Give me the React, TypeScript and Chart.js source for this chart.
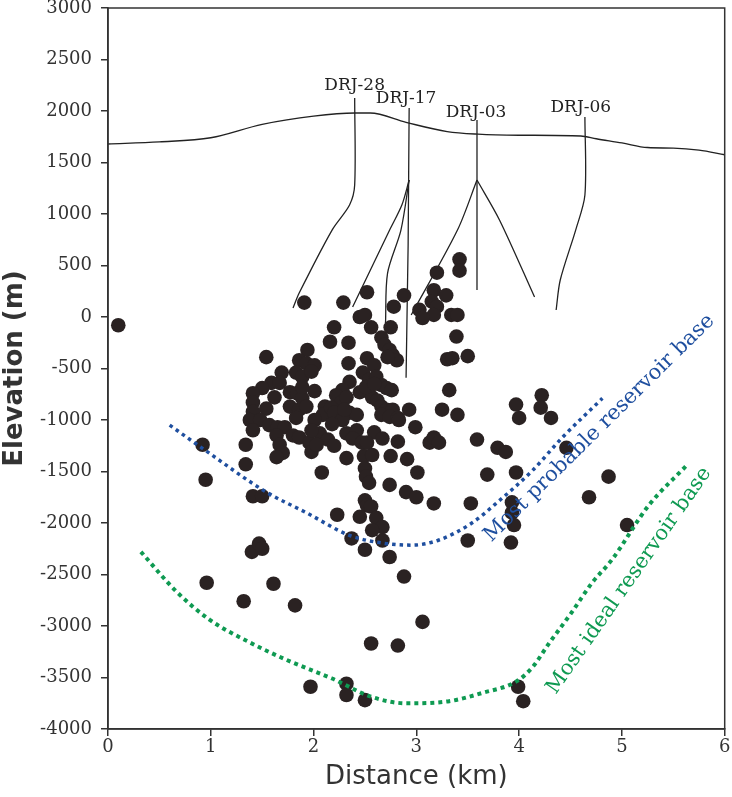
import React, { useEffect, useRef } from "react";
import { Chart, registerables } from "chart.js";

Chart.register(...registerables);

// ---- axis ticks ----
const xTickValues = [0, 1, 2, 3, 4, 5, 6];
const yTickValues = [-4000, -3500, -3000, -2500, -2000, -1500, -1000, -500, 0, 500, 1000, 1500, 2000, 2500, 3000];

// ---- hypocentres: distance (km) / elevation (m) ----
const distanceKm = [
  0.10, 1.91, 1.54, 0.92, 0.95, 1.34, 1.34, 1.41, 1.50, 1.40, 1.47, 1.50, 0.96, 1.61, 1.32, 1.82,
  1.97, 2.32, 2.32, 2.50, 2.56, 2.82, 3.06, 2.88, 3.99, 4.04,
  3.42, 3.42, 3.20, 2.52, 2.88, 2.29, 3.17, 3.15, 3.29, 3.20, 3.17, 3.03, 3.06, 3.34, 3.40, 2.45,
  2.50, 2.78, 2.20, 2.56, 2.75, 3.39, 2.16, 2.34, 2.66, 2.69, 2.74, 2.77, 2.81, 2.72, 1.94, 3.30,
  3.35, 3.50, 2.34, 2.52, 2.59, 1.86, 1.93, 2.01,
  1.69, 1.83, 1.89, 1.98, 2.48, 2.54, 2.61, 2.66, 2.71, 2.76, 1.59, 1.50, 1.41, 1.67, 1.77, 1.84,
  1.89, 2.01, 2.35, 2.28, 2.22, 2.27, 2.32, 2.45, 2.57, 2.62, 2.66, 2.71, 2.77, 2.66, 2.74, 2.82,
  2.93, 3.32, 3.25, 3.40, 1.41, 1.62, 1.54, 1.41, 1.38, 1.77, 1.86, 1.93, 2.11, 2.09, 2.17, 2.20,
  2.35, 2.42, 2.28, 2.01, 1.48, 1.57, 1.65, 1.72, 1.83, 1.41, 1.64, 1.67, 1.80, 1.86, 1.96, 2.06,
  1.98, 2.14, 1.70, 1.98, 2.32, 2.42, 2.38, 2.47, 2.59, 2.67, 2.52, 2.20, 2.03, 2.82, 3.13, 3.17,
  3.22, 2.99, 2.32, 2.49, 2.57, 2.75, 2.91, 1.64, 2.08, 3.01, 2.50, 2.51, 2.54, 2.74, 2.90, 3.00,
  3.59, 3.79, 3.87, 3.69, 3.97, 2.50, 2.52, 2.56, 2.23, 2.45, 2.61, 2.67, 2.57, 2.37, 2.67, 2.50,
  2.74, 3.17, 3.53, 3.50, 3.93, 3.93, 3.95, 3.92, 3.97, 4.00, 4.22, 4.21, 4.31, 4.46, 4.87, 4.68,
  5.05, 2.18, 1.89, 2.51, 2.83, 2.30, 2.59,
];
const elevationM = [
  -80, 140, -390, -1240, -1580, -1240, -1430, -1740, -1740, -2280, -2200, -2250, -2580, -2590, -2760, -2800,
  -3590, -3560, -3670, -3720, -3170, -3190, -2960, -2520, -3590, -3730,
  560, 450, 430, 240, 210, 140, 260, 150, 210, 100, 20, 70, -10, 20, 20, 0,
  20, 100, -100, -100, -100, -190, -240, -250, -200, -270, -320, -370, -420, -390, -320, -410,
  -400, -380, -450, -400, -470, -420, -450, -470,
  -540, -540, -580, -530, -540, -610, -580, -660, -690, -710, -640, -690, -740, -640, -730, -740,
  -790, -720, -630, -710, -760, -830, -780, -730, -780, -810, -870, -900, -900, -950, -970, -980,
  -900, -710, -900, -950, -830, -780, -890, -920, -1000, -870, -900, -870, -870, -950, -880, -930,
  -930, -950, -1000, -1000, -1000, -1050, -1070, -1070, -980, -1100, -1150, -1240, -1150, -1170, -1220, -1130,
  -1310, -1190, -1320, -1100, -1130, -1100, -1180, -1220, -1120, -1180, -1220, -1250, -1240, -1210, -1220, -1170,
  -1220, -1070, -1370, -1350, -1340, -1350, -1380, -1360, -1510, -1510, -1470, -1550, -1610, -1630, -1700, -1750,
  -1190, -1270, -1310, -1530, -1510, -1780, -1830, -1840, -1920, -1940, -1950, -2040, -2070, -2150, -2170, -2260,
  -2330, -1810, -1810, -2170, -1800, -1900, -2020, -2190, -850, -980, -760, -880, -980, -1270, -1550, -1750,
  -2020, -1040, -680, -680, -1000, -900, -650,
];

// ---- ground surface ----
const topoX = [0, 0.5, 1.0, 1.5, 2.0, 2.4, 2.55, 2.9, 3.3, 3.6, 4.0, 4.6, 4.75, 5.0, 5.25, 5.5, 5.75, 6.0];
const topoY = [1680, 1700, 1740, 1870, 1950, 1980, 1980, 1890, 1800, 1775, 1765, 1757, 1730, 1690, 1645, 1640, 1620, 1575];

// ---- well trajectories ----
const drj28X = [2.40, 2.40, 2.35, 2.18, 1.86, 1.80];
const drj28Y = [2126, 1281, 1087, 844, 233, 87];
const drj17aX = [2.93, 2.92, 2.90];
const drj17aY = [2029, 700, -590];
const drj17bX = [2.93, 2.86, 2.74, 2.38];
const drj17bY = [1330, 1090, 844, 97];
const drj17cX = [2.93, 2.85, 2.72, 2.70];
const drj17cY = [1330, 844, 427, -60];
const drj03aX = [3.59, 3.59];
const drj03aY = [1913, 262];
const drj03bX = [3.59, 3.81, 4.15];
const drj03bY = [1330, 940, 194];
const drj03cX = [3.59, 3.40, 2.95];
const drj03cY = [1330, 844, 20];
const drj06X = [4.64, 4.64, 4.55, 4.40, 4.36];
const drj06Y = [1942, 1184, 844, 359, 68];

const wellNames = ["DRJ-28", "DRJ-17", "DRJ-03", "DRJ-06"];
const wellLabelX = [2.40, 2.90, 3.58, 4.60];
const wellLabelY = [2250, 2120, 1980, 2030];

// ---- reservoir base curves ----
const probableX = [0.60, 0.94, 1.54, 1.93, 2.35, 2.67, 2.96, 3.22, 3.54, 3.81, 4.13, 4.42, 4.81];
const probableY = [-1050, -1290, -1700, -1900, -2120, -2195, -2215, -2165, -2000, -1780, -1490, -1170, -790];
const idealX = [0.32, 0.67, 0.99, 1.38, 1.74, 2.18, 2.57, 2.90, 3.32, 3.64, 3.97, 4.13, 4.29, 4.51, 4.71, 4.90, 5.26, 5.62];
const idealY = [-2280, -2670, -2940, -3160, -3330, -3510, -3690, -3750, -3730, -3650, -3540, -3400, -3170, -2870, -2580, -2360, -1830, -1450];

const curveLabels = ["Most probable reservoir base", "Most ideal reservoir base"];
const curveLabelX = [4.78, 5.07];
const curveLabelY = [-1080, -2560];
const curveLabelAngle = [-44.6, -55];

const BLUE = "#1f4f9f";
const GREEN = "#0f9a52";
const INK = "#2a2222";

const toPts = (xs: number[], ys: number[]) => xs.map((v, i) => ({ x: v, y: ys[i] }));

const lineDs = (label: string, xs: number[], ys: number[], extra: any = {}) => ({
  label,
  data: toPts(xs, ys),
  showLine: true,
  pointRadius: 0,
  borderColor: "#222",
  borderWidth: 1.3,
  tension: 0.3,
  fill: false,
  ...extra,
});

const overlayPlugin = {
  id: "overlay",
  afterDatasetsDraw(chart: any) {
    const { ctx, chartArea: a } = chart;
    const xs = chart.scales.x;
    const ys = chart.scales.y;
    ctx.save();
    ctx.strokeStyle = "#333";
    ctx.lineWidth = 1.5;
    ctx.strokeRect(a.left, a.top, a.right - a.left, a.bottom - a.top);

    ctx.fillStyle = "#222";
    ctx.font = '17px "DejaVu Serif"';
    ctx.textAlign = "center";
    ctx.textBaseline = "middle";
    wellNames.forEach((n, i) => {
      ctx.fillText(n, xs.getPixelForValue(wellLabelX[i]), ys.getPixelForValue(wellLabelY[i]));
    });

    ctx.font = '21px "DejaVu Serif"';
    curveLabels.forEach((t, i) => {
      ctx.save();
      ctx.translate(xs.getPixelForValue(curveLabelX[i]), ys.getPixelForValue(curveLabelY[i]));
      ctx.rotate((curveLabelAngle[i] * Math.PI) / 180);
      ctx.fillStyle = i === 0 ? BLUE : GREEN;
      ctx.fillText(t, 0, 0);
      ctx.restore();
    });
    ctx.restore();
  },
};

export default function App() {
  const ref = useRef<HTMLCanvasElement | null>(null);

  useEffect(() => {
    if (!ref.current) return;
    const chart = new Chart(ref.current, {
      type: "scatter",
      data: {
        datasets: [
          lineDs("Most probable reservoir base", probableX, probableY, {
            borderColor: BLUE,
            borderWidth: 3.5,
            borderDash: [3.5, 4],
            cubicInterpolationMode: "monotone",
          }),
          lineDs("Most ideal reservoir base", idealX, idealY, {
            borderColor: GREEN,
            borderWidth: 4,
            borderDash: [4, 4],
            cubicInterpolationMode: "monotone",
          }),
          {
            label: "Events",
            data: toPts(distanceKm, elevationM),
            pointRadius: 7.3,
            pointHoverRadius: 7.3,
            backgroundColor: INK,
            borderWidth: 0,
            showLine: false,
          },
          lineDs("Surface", topoX, topoY, { cubicInterpolationMode: "monotone", borderWidth: 1.4 }),
          lineDs("DRJ-28", drj28X, drj28Y),
          lineDs("DRJ-17a", drj17aX, drj17aY, { tension: 0 }),
          lineDs("DRJ-17b", drj17bX, drj17bY),
          lineDs("DRJ-17c", drj17cX, drj17cY),
          lineDs("DRJ-03a", drj03aX, drj03aY, { tension: 0 }),
          lineDs("DRJ-03b", drj03bX, drj03bY),
          lineDs("DRJ-03c", drj03cX, drj03cY),
          lineDs("DRJ-06", drj06X, drj06Y),
        ],
      },
      options: {
        animation: false,
        responsive: false,
        devicePixelRatio: 1,
        layout: { padding: 0 },
        plugins: { legend: { display: false }, tooltip: { enabled: false } },
        scales: {
          x: {
            type: "linear",
            min: 0,
            max: 6,
            afterBuildTicks: (s: any) => {
              s.ticks = xTickValues.map((v) => ({ value: v }));
            },
            afterFit: (s: any) => {
              s.height = 68;
              s.paddingLeft = 0;
              s.paddingRight = 5;
            },
            ticks: {
              color: "#333",
              font: { family: "DejaVu Serif", size: 18, lineHeight: 0.8 },
              padding: 4,
              callback: (v: any) => String(v),
            },
            grid: { drawOnChartArea: false, drawTicks: true, tickLength: 7, color: "#333", lineWidth: 1.5 },
            border: { display: true, color: "#333", width: 1.5 },
            title: {
              display: true,
              text: "Distance (km)",
              color: "#333",
              font: { family: "DejaVu Sans", size: 26 },
              padding: { top: 0, bottom: 4 },
            },
          },
          y: {
            type: "linear",
            min: -4000,
            max: 3000,
            afterBuildTicks: (s: any) => {
              s.ticks = yTickValues.map((v) => ({ value: v }));
            },
            afterFit: (s: any) => {
              s.width = 108;
              s.paddingTop = 8;
              s.paddingBottom = 0;
            },
            ticks: {
              color: "#333",
              font: { family: "DejaVu Serif", size: 18, lineHeight: 0.8 },
              padding: 9,
              callback: (v: any) => String(v),
            },
            grid: { drawOnChartArea: false, drawTicks: true, tickLength: 7, color: "#333", lineWidth: 1.5 },
            border: { display: true, color: "#333", width: 1.5 },
            title: {
              display: true,
              text: "Elevation (m)",
              color: "#333",
              font: { family: "DejaVu Sans", size: 26, weight: "bold" },
              padding: { top: 0, bottom: 0 },
            },
          },
        },
      },
      plugins: [overlayPlugin],
    } as any);
    return () => chart.destroy();
  }, []);

  return (
    <div style={{ position: "absolute", left: 0, top: 0, width: 732, height: 797, background: "#fff" }}>
      <canvas ref={ref} width={732} height={797} style={{ display: "block" }} />
    </div>
  );
}
